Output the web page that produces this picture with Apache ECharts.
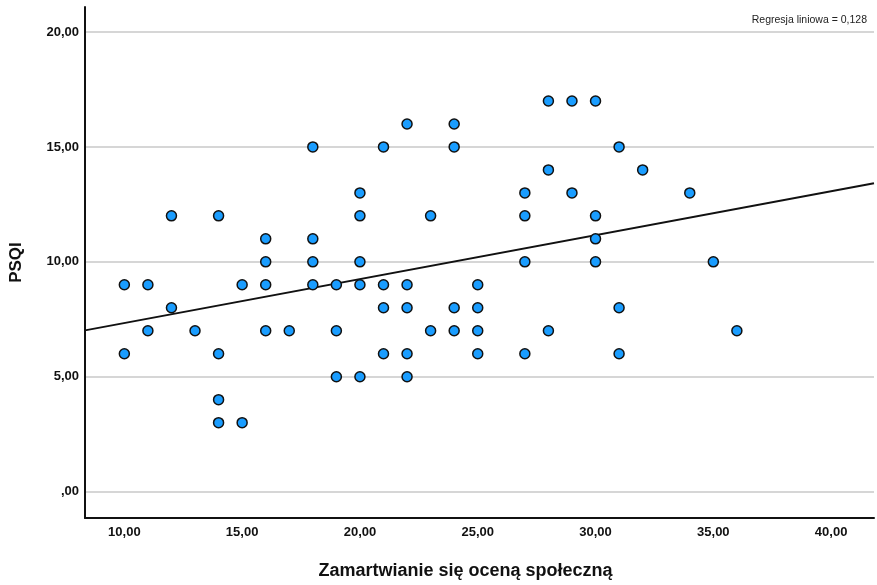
<!DOCTYPE html>
<html>
<head>
<meta charset="utf-8">
<script src="https://cdn.jsdelivr.net/npm/echarts@6/dist/echarts.min.js"></script>
<style>html,body{margin:0;padding:0;background:#fff;}#c{width:877px;height:585px;}</style>
</head>
<body>
<div id="c"></div>
<script>
// Zamartwianie się oceną społeczną (x) vs PSQI (y)
const xValues = [10,10,11,11,12,12,13,14,14,14,14,15,15,16,16,16,16,17,18,18,18,18,19,19,19,20,20,20,20,20,21,21,21,21,22,22,22,22,22,23,23,24,24,24,24,25,25,25,25,27,27,27,27,28,28,28,29,29,30,30,30,30,31,31,31,32,34,35,36];
const yValues = [9,6,9,7,12,8,7,12,6,4,3,9,3,11,10,9,7,7,15,11,10,9,9,7,5,13,12,10,9,5,15,9,8,6,16,9,8,6,5,12,7,16,15,8,7,9,8,7,6,13,12,10,6,17,14,7,17,13,17,12,11,10,15,8,6,14,13,10,7];
const xTicks = [10,15,20,25,30,35,40];
const yTicks = [0,5,10,15,20];
const xRange = [8.33, 41.82];
const yRange = [-1.15, 21.09];
const r2Label = 'Regresja liniowa = 0,128';

// least-squares fit line from the data
const n = xValues.length;
const mx = xValues.reduce((a,b)=>a+b,0)/n;
const my = yValues.reduce((a,b)=>a+b,0)/n;
let sxy = 0, sxx = 0;
for (let i=0;i<n;i++){ sxy += (xValues[i]-mx)*(yValues[i]-my); sxx += (xValues[i]-mx)**2; }
const slope = sxy/sxx, icpt = my - slope*mx;
const fitLine = [[xRange[0], icpt+slope*xRange[0]], [xRange[1], icpt+slope*xRange[1]]];

const fmt = v => { const s = Number(v).toFixed(2).replace('.', ','); return s.startsWith('0,') ? s.slice(1) : s; };
const font = 'Liberation Sans, Arial, sans-serif';

const chart = echarts.init(document.getElementById('c'), null, {renderer:'canvas'});
chart.setOption({
  animation: false,
  backgroundColor: '#fff',
  grid: {left: 81, right: 3, top: 7, bottom: 63, containLabel: false},
  title: {text: r2Label, right: 5, top: 10, textStyle: {fontFamily: font, fontSize: 10.5, fontWeight: 'normal', color: '#222'}},
  xAxis: {
    type: 'value', min: xRange[0], max: xRange[1],
    name: 'Zamartwianie się oceną społeczną', nameLocation: 'middle', nameGap: 44,
    nameTextStyle: {fontFamily: font, fontSize: 18, fontWeight: 'bold', color: '#111', padding: [0, 28, 0, 0]},
    axisLine: {show: true, onZero: false, lineStyle: {color: '#111', width: 2}},
    axisTick: {show: false, customValues: xTicks},
    axisLabel: {customValues: xTicks, formatter: fmt, fontFamily: font, fontSize: 13, fontWeight: 'bold', color: '#111', margin: 8},
    splitLine: {show: false}
  },
  yAxis: {
    type: 'value', min: yRange[0], max: yRange[1],
    name: 'PSQI', nameLocation: 'middle', nameGap: 60,
    nameTextStyle: {fontFamily: font, fontSize: 17, fontWeight: 'bold', color: '#111'},
    axisLine: {show: true, onZero: false, lineStyle: {color: '#111', width: 2}},
    axisTick: {show: false, customValues: yTicks},
    axisLabel: {customValues: yTicks, formatter: fmt, fontFamily: font, fontSize: 13, fontWeight: 'bold', color: '#111', margin: 6},
    splitLine: {show: true, lineStyle: {color: '#c8c8c8', width: 1.5}}
  },
  series: [
    {
      type: 'line', data: fitLine, symbol: 'none', z: 3,
      lineStyle: {color: '#111', width: 2}, silent: true
    },
    {
      type: 'scatter', z: 4,
      data: xValues.map((x,i)=>[x, yValues[i]]),
      symbolSize: 10,
      itemStyle: {color: '#1a9dff', borderColor: '#111', borderWidth: 1.5, opacity: 1}
    }
  ]
});
</script>
</body>
</html>
